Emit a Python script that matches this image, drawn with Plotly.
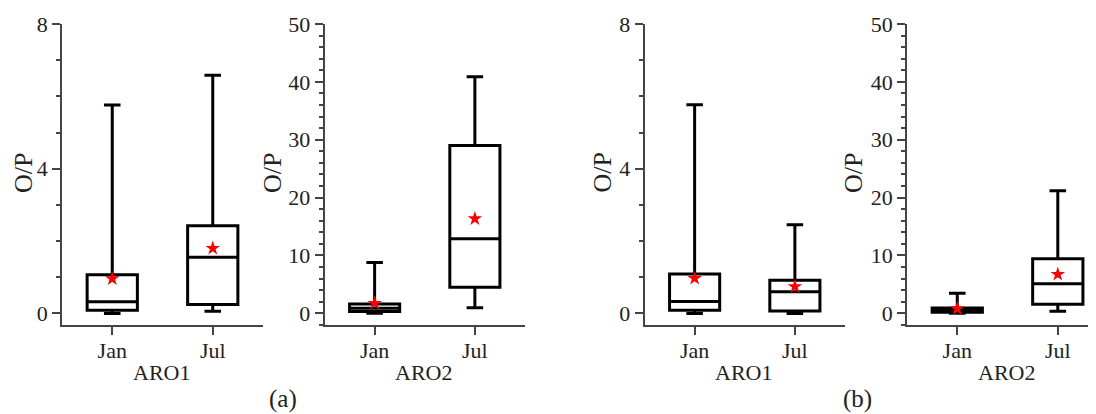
import plotly.graph_objects as go

# page body has an 8px margin: figure is drawn at (8, 8) in the window
OFF = 8
W, H = 1096 - OFF, 414 - OFF

months = ["Jan", "Jul"]

# (a) ARO1
a1_low = [0.0, 0.06]
a1_q1 = [0.09, 0.25]
a1_med = [0.32, 1.55]
a1_q3 = [1.07, 2.42]
a1_high = [5.76, 6.58]
a1_mean = [0.96, 1.80]

# (a) ARO2
a2_low = [0.0, 0.97]
a2_q1 = [0.3, 4.5]
a2_med = [0.86, 12.9]
a2_q3 = [1.6, 29.0]
a2_high = [8.8, 40.9]
a2_mean = [1.73, 16.35]

# (b) ARO1
b1_low = [0.0, 0.0]
b1_q1 = [0.09, 0.07]
b1_med = [0.33, 0.60]
b1_q3 = [1.09, 0.92]
b1_high = [5.77, 2.45]
b1_mean = [0.97, 0.74]

# (b) ARO2
b2_low = [0.0, 0.35]
b2_q1 = [0.17, 1.55]
b2_med = [0.57, 5.12]
b2_q3 = [0.92, 9.44]
b2_high = [3.46, 21.2]
b2_mean = [0.8, 6.74]

site_names = ["ARO1", "ARO2", "ARO1", "ARO2"]
panel_labels = ["(a)", "(b)"]
y_small_ticks = [0, 4, 8]
y_large_ticks = [0, 10, 20, 30, 40, 50]

panels = [
    (a1_low, a1_q1, a1_med, a1_q3, a1_high, a1_mean),
    (a2_low, a2_q1, a2_med, a2_q3, a2_high, a2_mean),
    (b1_low, b1_q1, b1_med, b1_q3, b1_high, b1_mean),
    (b2_low, b2_q1, b2_med, b2_q3, b2_high, b2_mean),
]

FONT = "Liberation Serif, Times New Roman, serif"
AX = "#444444"
TXT = "#222222"


def px_x(sx):
    return (sx - OFF) / W


def px_y(sy):
    return (H - (sy - OFF)) / H


# layout geometry (window pixels)
x_px = [(62, 263), (324.5, 525), (644.5, 845), (907, 1096)]
x_rng = [[-0.5, 1.5], [-0.5, 1.5], [-0.5, 1.5], [-0.5, 1.38]]
y_top, y_bot = 24, 325
y_dom = [px_y(y_bot), px_y(y_top)]
y_rngs = [[-0.32, 8], [-2.02, 50], [-0.32, 8], [-2.02, 50]]
y_ticks = [y_small_ticks, y_large_ticks, y_small_ticks, y_large_ticks]
y_minor = [1, 2, 1, 2]

fig = go.Figure()
layout = {}
for i, (low, q1, med, q3, high, mean) in enumerate(panels):
    n = "" if i == 0 else str(i + 1)
    xa, ya = "x" + n, "y" + n
    fig.add_trace(go.Box(
        x=months, lowerfence=low, q1=q1, median=med, q3=q3, upperfence=high,
        xaxis=xa, yaxis=ya, fillcolor="rgba(0,0,0,0)",
        line=dict(color="black", width=3), width=0.5, whiskerwidth=0.33,
        boxpoints=False, showlegend=False, hoverinfo="skip",
    ))
    fig.add_trace(go.Scatter(
        x=months, y=mean, mode="markers", xaxis=xa, yaxis=ya,
        marker=dict(symbol="star", color="red", size=11, line=dict(width=0)),
        showlegend=False, hoverinfo="skip",
    ))
    x0, x1 = x_px[i]
    layout["xaxis" + n] = dict(
        domain=[px_x(x0), min(1.0, px_x(x1))], range=x_rng[i], anchor=ya,
        automargin=False, showline=True, linecolor=AX, linewidth=1.5,
        ticks="outside", ticklen=8, tickwidth=1.5, tickcolor=AX,
        ticklabelstandoff=-3,
        tickfont=dict(family=FONT, size=22, color=TXT),
        showgrid=False, zeroline=False, fixedrange=True,
    )
    layout["yaxis" + n] = dict(
        domain=y_dom, range=y_rngs[i], anchor=xa, automargin=False,
        showline=True, linecolor=AX, linewidth=1.5,
        tickvals=y_ticks[i], ticks="outside", ticklen=8, tickwidth=1.5,
        tickcolor=AX, tickfont=dict(family=FONT, size=22, color=TXT),
        minor=dict(dtick=y_minor[i], tick0=0, ticks="outside", ticklen=4,
                   tickwidth=1.5, tickcolor=AX, showgrid=False),
        showgrid=False, zeroline=False, fixedrange=True,
    )

annotations = []
ytitle_x = [23, 272, 601.5, 853]
xtitle_x = [161, 423, 743, 1006]
for i in range(4):
    annotations.append(dict(
        x=px_x(ytitle_x[i]), y=px_y(173), xref="paper", yref="paper",
        text="O/P", textangle=-90, showarrow=False,
        font=dict(family=FONT, size=26, color=TXT),
        xanchor="center", yanchor="middle",
    ))
    annotations.append(dict(
        x=px_x(xtitle_x[i]), y=px_y(372), xref="paper", yref="paper",
        text=site_names[i], showarrow=False,
        font=dict(family=FONT, size=22, color=TXT),
        xanchor="center", yanchor="middle",
    ))
for lbl, px in zip(panel_labels, [283, 857]):
    annotations.append(dict(
        x=px_x(px), y=px_y(399), xref="paper", yref="paper",
        text=lbl, showarrow=False,
        font=dict(family=FONT, size=25, color=TXT),
        xanchor="center", yanchor="middle",
    ))

fig.update_layout(
    width=W, height=H, margin=dict(l=0, r=0, t=0, b=0, autoexpand=False),
    paper_bgcolor="white", plot_bgcolor="white",
    annotations=annotations, **layout,
)

fig.write_html("out.html")
